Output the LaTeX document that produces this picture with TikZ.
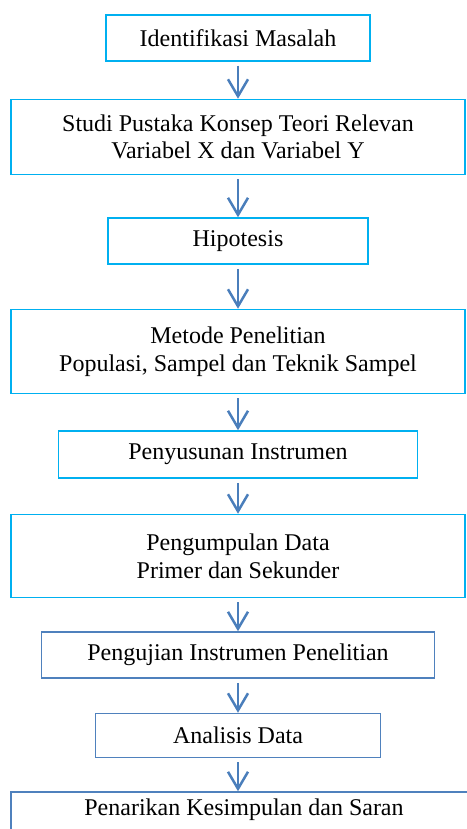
\documentclass[tikz,border=0pt]{standalone}
\usepackage{fontspec}
\setmainfont{Liberation Serif}
\usetikzlibrary{arrows.meta,positioning}
\definecolor{skyline}{HTML}{00B0F0}
\definecolor{steelline}{HTML}{4F81BD}
\definecolor{flowblue}{HTML}{4A7EBB}

\begin{document}
\begin{tikzpicture}[
  font=\fontsize{12}{13.8}\selectfont,
  box/.style={draw=skyline,line width=.75pt,align=center,inner sep=3pt},
  flow/.style={-{Straight Barb[length=8.5pt,width=10pt]},line width=1.25pt,
    draw=flowblue,shorten <=2pt},
  node distance=17pt]
\useasboundingbox (0,0) rectangle (233pt,-414.5pt);
\node[box,minimum width=132pt,minimum height=23pt] (ident) at (119pt,-19pt)
  {Identifikasi Masalah};
\node[box,minimum width=227pt,minimum height=37.5pt,below=18.5pt of ident] (studi)
  {Studi Pustaka Konsep Teori Relevan\\Variabel X dan Variabel Y};
\node[box,minimum width=130pt,minimum height=23pt,below=21pt of studi] (hipo)
  {Hipotesis};
\node[box,minimum width=227pt,minimum height=42pt,below=22pt of hipo] (metode)
  {Metode Penelitian\\Populasi, Sampel dan Teknik Sampel};
\node[box,minimum width=179.5pt,minimum height=23.5pt,below=18pt of metode] (susun)
  {Penyusunan Instrumen};
\node[box,minimum width=227pt,minimum height=41.5pt,below=17.5pt of susun] (kumpul)
  {Pengumpulan Data\\Primer dan Sekunder};
\node[box,draw=steelline,minimum width=196.5pt,minimum height=23pt,below=16.5pt of kumpul] (uji)
  {Pengujian Instrumen Penelitian};
\node[box,draw=steelline,minimum width=142.5pt,minimum height=22pt,below=17pt of uji] (analisis)
  {Analisis Data};
\node[box,draw=steelline,minimum width=233pt,text height=8pt,text depth=30pt,inner ysep=3.5pt,
  anchor=north west] (tarik) at ([yshift=-16.5pt]analisis.south -| kumpul.west)
  {Penarikan Kesimpulan dan Saran};
\draw[flow] (ident) -- (studi);
\draw[flow] (studi) -- (hipo);
\draw[flow] (hipo) -- (metode);
\draw[flow] (metode) -- (susun);
\draw[flow] (susun) -- (kumpul);
\draw[flow] (kumpul) -- (uji);
\draw[flow] (uji) -- (analisis);
\draw[flow] (analisis) -- (analisis.south |- tarik.north);
\end{tikzpicture}
\end{document}
